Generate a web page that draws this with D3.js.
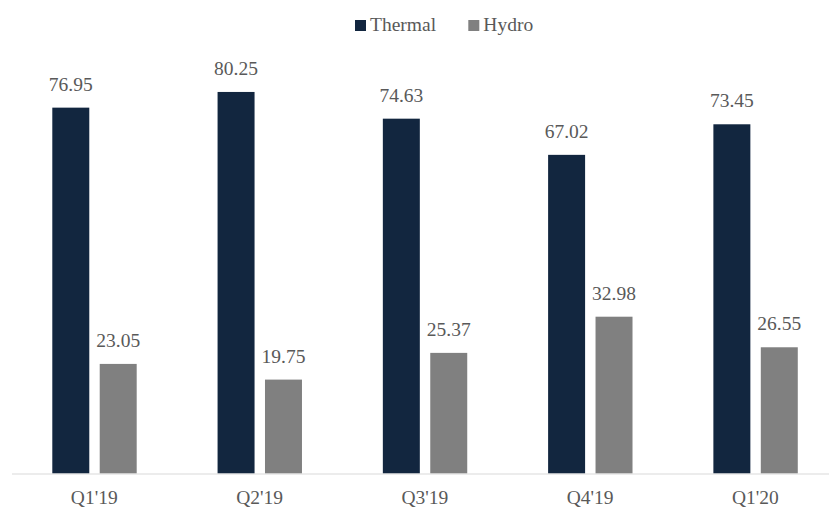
<!DOCTYPE html>
<html><head><meta charset="utf-8">
<script src="https://cdn.jsdelivr.net/npm/d3@7"></script>
<style>body{margin:0;background:#fff}text{font-family:"Liberation Serif","DejaVu Serif",serif;fill:#595959}</style>
</head><body>
<svg id="c" width="829" height="508"></svg>
<script>
const categories = ["Q1'19","Q2'19","Q3'19","Q4'19","Q1'20"];
const seriesNames = ["Thermal","Hydro"];
const thermal = [76.95,80.25,74.63,67.02,73.45];
const hydro = [23.05,19.75,25.37,32.98,26.55];
const colors = ["#12263f","#808080"];

const svg = d3.select("#c");
const x = d3.scaleBand().domain(categories).range([11.65,838]).paddingInner(0).paddingOuter(0);
const x1 = d3.scaleBand().domain(seriesNames).range([40.65, 40.65+84.4]).paddingInner(0.22).paddingOuter(0);
const y = d3.scaleLinear().domain([0,90]).range([473.5,45.6]);

const data = categories.map((c,i)=>({c, vals:[thermal[i],hydro[i]]}));

const g = svg.selectAll("g.cat").data(data).join("g").attr("transform",d=>`translate(${x(d.c)},0)`);
g.selectAll("rect").data(d=>d.vals.map((v,j)=>({v,s:seriesNames[j],j}))).join("rect")
  .attr("x",d=>x1(d.s)).attr("width",x1.bandwidth())
  .attr("y",d=>y(d.v)).attr("height",d=>y(0)-y(d.v)).attr("fill",d=>colors[d.j]);
g.selectAll("text.lbl").data(d=>d.vals.map((v,j)=>({v,s:seriesNames[j],j}))).join("text")
  .attr("class","lbl").attr("x",d=>x1(d.s)+x1.bandwidth()/2).attr("y",d=>y(d.v)-17)
  .attr("text-anchor","middle").style("font-size","19.5px").text(d=>d.v.toFixed(2));

const axis = svg.append("g").attr("transform",`translate(0,${y(0)})`).call(d3.axisBottom(x).tickSize(0).tickPadding(0));
axis.select(".domain").attr("stroke","#d9d9d9").attr("stroke-width",1.2).attr("d","M12,0.5H829");
axis.selectAll("text").attr("dy",0).attr("y",30.5).style("font-size","19.5px").attr("fill","#595959");

const legX = [355,468.3];
const lg = svg.selectAll("g.leg").data(seriesNames).join("g").attr("transform",(d,i)=>`translate(${legX[i]},20)`);
lg.append("rect").attr("width",11).attr("height",11).attr("fill",(d,i)=>colors[i]);
lg.append("text").attr("x",15).attr("y",11).style("font-size","19.5px").text(d=>d);
</script>
</body></html>
